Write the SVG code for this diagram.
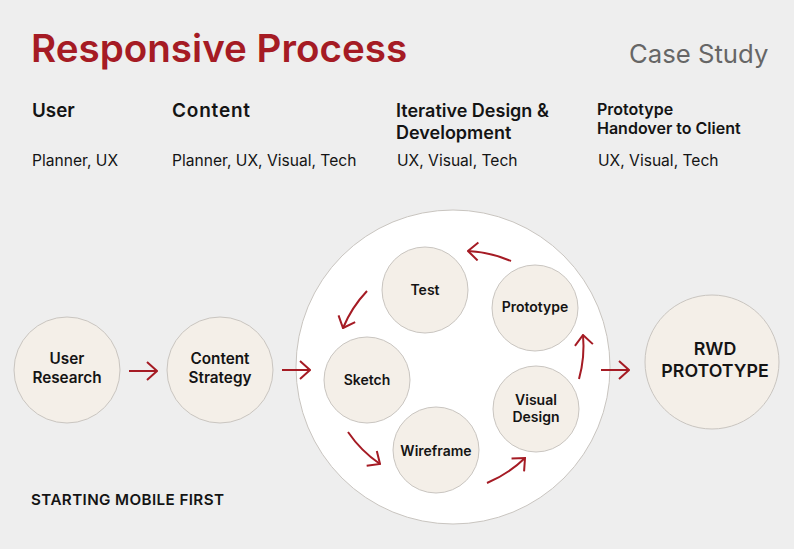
<svg xmlns="http://www.w3.org/2000/svg" width="794" height="549" viewBox="0 0 794 549">
<defs>
<style>
text{font-family:Inter,"Noto Sans","Liberation Sans",sans-serif;fill:#141414}
.title{font-size:38.6px;font-weight:600;fill:#a51b24}
.case{font-size:25.7px;font-weight:400;fill:#666}
.h{font-size:18px;font-weight:600}
.h2{font-size:16px;font-weight:600}
.sub{font-size:15.6px;font-weight:400}
.node{fill:#f4efe8;stroke:#c9c5c0;stroke-width:1}
.lbl{font-size:15.3px;font-weight:600;text-anchor:middle}
.lbs{font-size:14px;font-weight:600;text-anchor:middle}
.big{font-size:17.8px;font-weight:600;text-anchor:middle}
.ar{fill:none;stroke:#a51b24;stroke-width:2;marker-end:url(#ah)}
</style>
<marker id="ah" markerUnits="userSpaceOnUse" viewBox="0 0 12 20" refX="11" refY="10" markerWidth="12" markerHeight="20" orient="auto">
<path d="M1,1 L11,10 L1,19" fill="none" stroke="#a51b24" stroke-width="2"/>
</marker>
</defs>
<rect width="794" height="549" fill="#eeeeee"/>
<text class="title" x="31" y="62">Responsive Process</text>
<text class="case" x="629" y="63">Case Study</text>

<text class="h" x="32" y="117" style="font-size:18.8px">User</text>
<text class="h" x="172" y="117" style="font-size:19px;letter-spacing:0.8px">Content</text>
<text class="h" x="396" y="117">Iterative Design &amp;</text>
<text class="h" x="396" y="139">Development</text>
<text class="h2" x="597" y="115">Prototype</text>
<text class="h2" x="597" y="134">Handover to Client</text>

<text class="sub" x="32" y="166">Planner, UX</text>
<text class="sub" x="172" y="166">Planner, UX, Visual, Tech</text>
<text class="sub" x="397" y="166">UX, Visual, Tech</text>
<text class="sub" x="598" y="166">UX, Visual, Tech</text>

<g id="cycle">
<circle cx="453" cy="367" r="157" fill="#ffffff" stroke="#c9c5c0" stroke-width="1"/>
</g>

<g id="user-research">
<circle class="node" cx="67" cy="370" r="53"/>
<text class="lbl" x="67" y="364">User</text>
<text class="lbl" x="67" y="383">Research</text>
</g>
<g id="content-strategy">
<circle class="node" cx="220" cy="370" r="53"/>
<text class="lbl" x="220" y="364">Content</text>
<text class="lbl" x="220" y="383">Strategy</text>
</g>
<g id="test">
<circle class="node" cx="425" cy="290" r="43"/>
<text class="lbs" x="425" y="295">Test</text>
</g>
<g id="prototype">
<circle class="node" cx="535" cy="308" r="43"/>
<text class="lbs" x="535" y="312">Prototype</text>
</g>
<g id="sketch">
<circle class="node" cx="367" cy="380" r="43"/>
<text class="lbs" x="367" y="385">Sketch</text>
</g>
<g id="wireframe">
<circle class="node" cx="436" cy="450" r="43"/>
<text class="lbs" x="436" y="456">Wireframe</text>
</g>
<g id="visual-design">
<circle class="node" cx="536" cy="409" r="43"/>
<text class="lbs" x="536" y="405">Visual</text>
<text class="lbs" x="536" y="422">Design</text>
</g>
<g id="rwd-prototype">
<circle class="node" cx="712" cy="362" r="67"/>
<text class="big" x="715" y="355">RWD</text>
<text class="big" x="715" y="377">PROTOTYPE</text>
</g>

<g id="connectors">
<path class="ar" d="M129,371 L157,371"/>
<path class="ar" d="M282,370 L310,370"/>
<path class="ar" d="M601,370 L629,370"/>
<path class="ar" d="M511,261 A122,122 0 0 0 468,251"/>
<path class="ar" d="M367,291 A122,122 0 0 0 343,328"/>
<path class="ar" d="M348,432 A122,122 0 0 0 380,464"/>
<path class="ar" d="M487,483 A122,122 0 0 0 525,458"/>
<path class="ar" d="M579,379 A122,122 0 0 0 583,335"/>
</g>

<text x="31" y="505" style="font-size:15.2px;font-weight:600;letter-spacing:0.4px">STARTING MOBILE FIRST</text>
</svg>
